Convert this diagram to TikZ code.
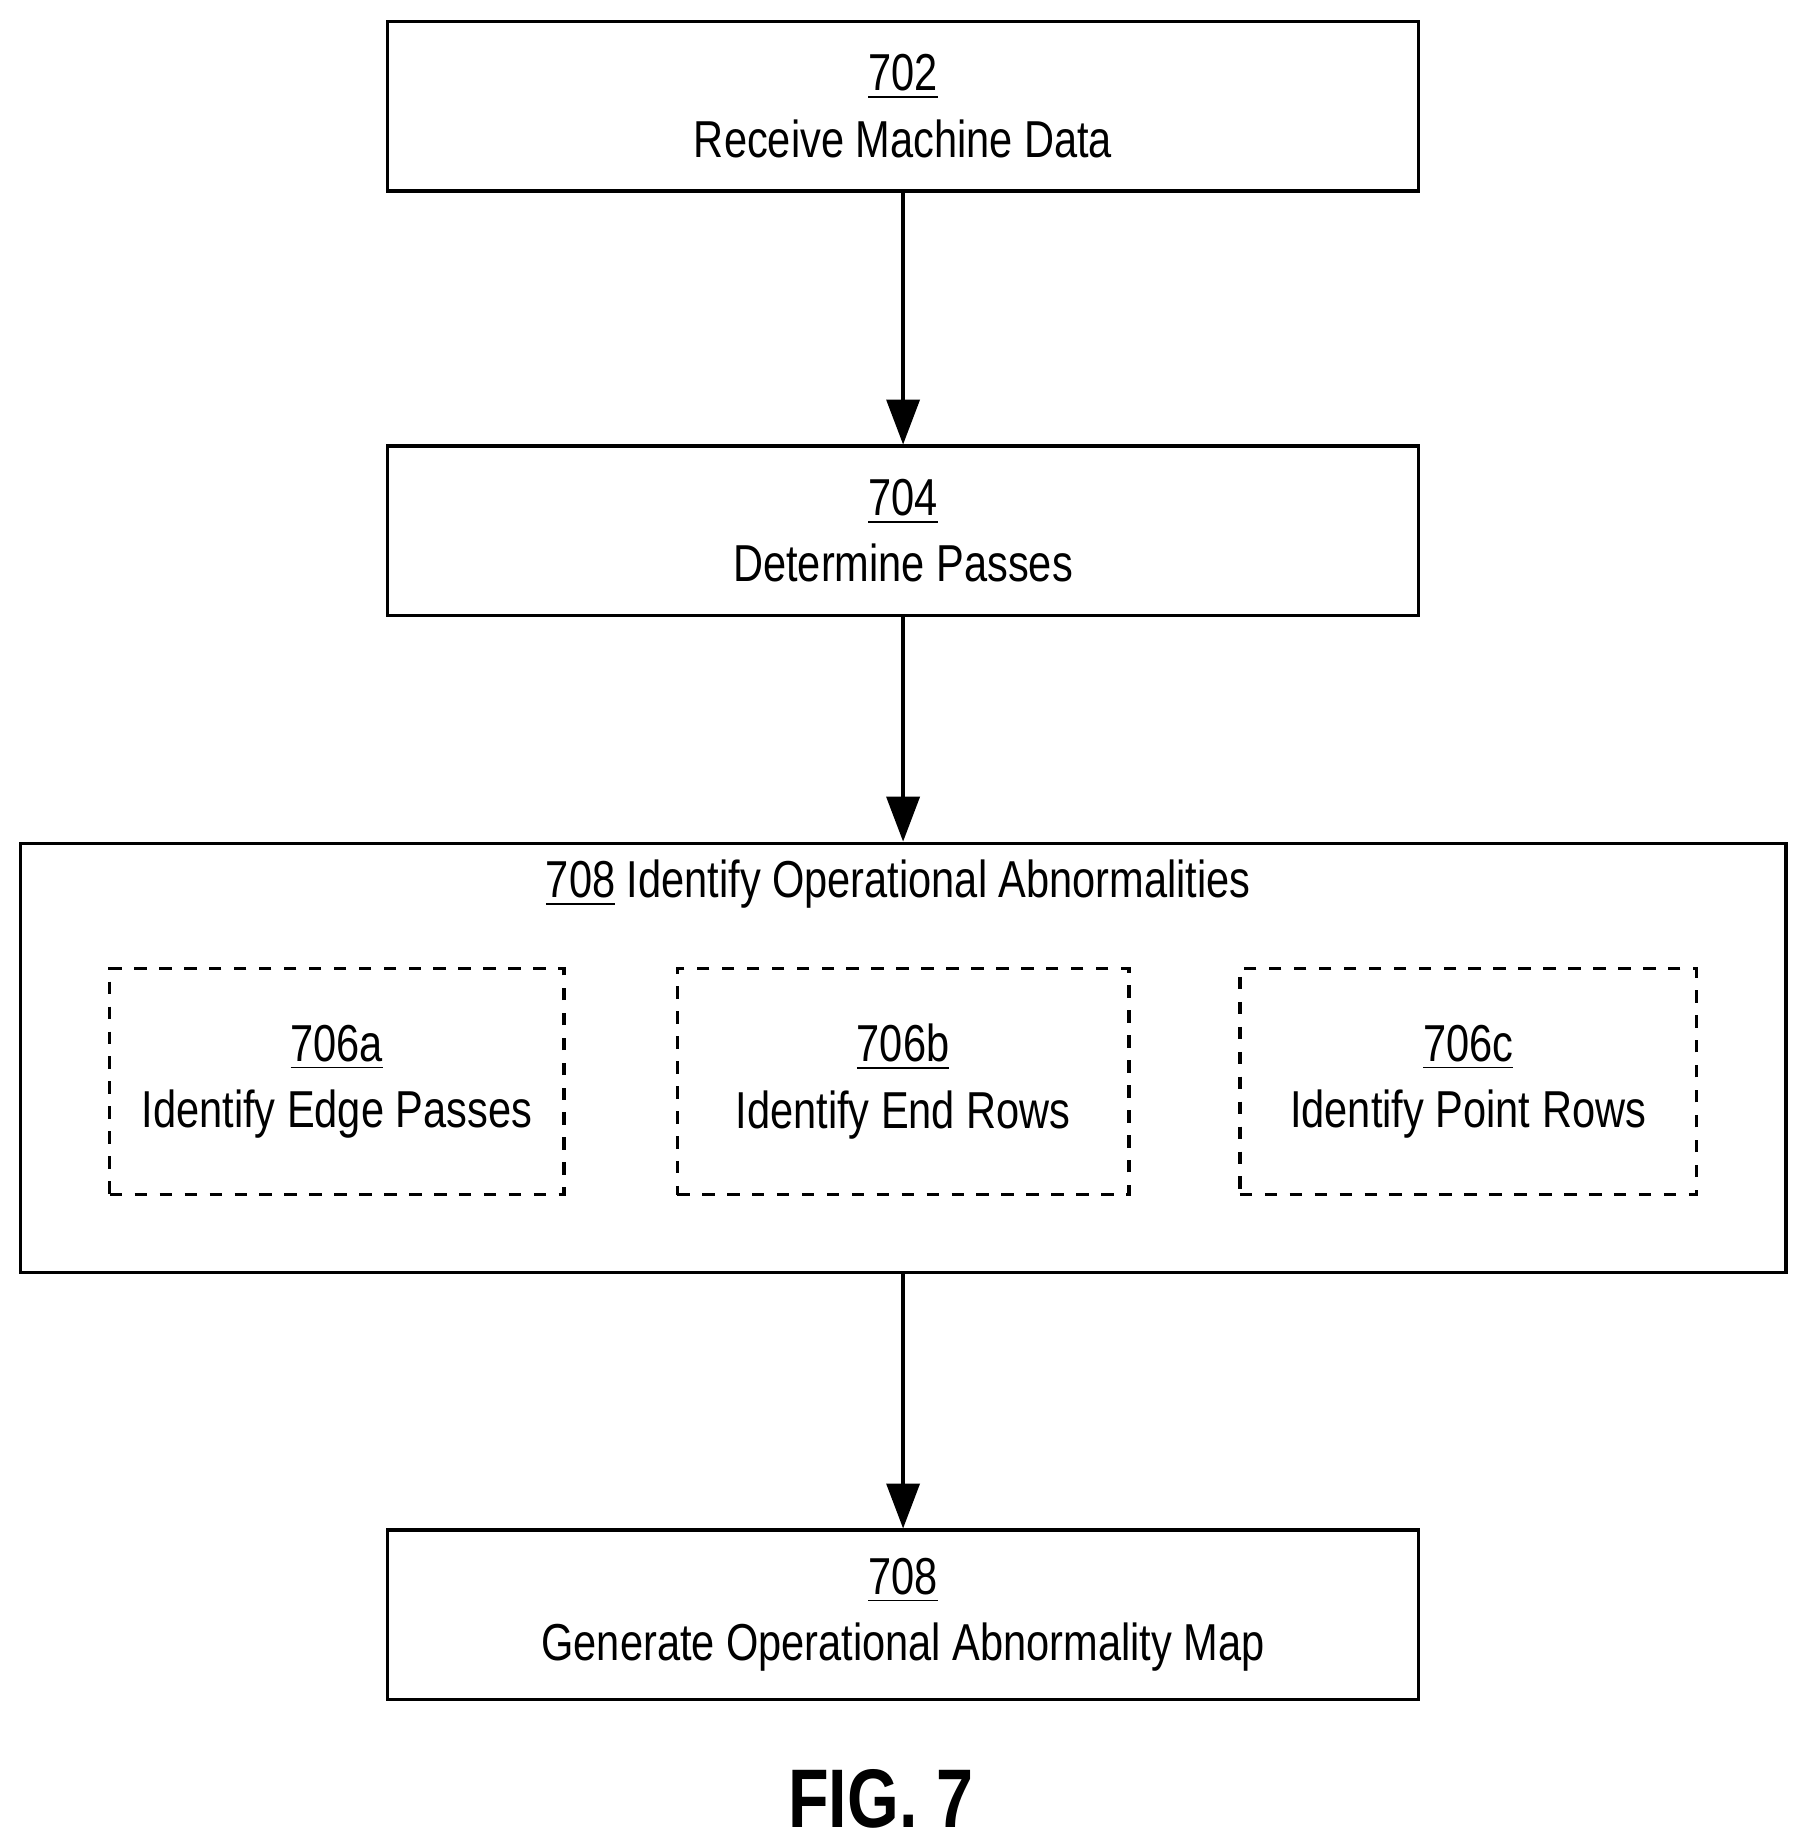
\documentclass[tikz,border=0pt]{standalone}
\usepackage{fontspec}
\setmainfont[FakeStretch=0.8]{Liberation Sans}
\usetikzlibrary{arrows.meta,positioning}
\tikzset{
		>={Triangle[width=2.8mm,length=3.8mm]}
	}
\begin{document}
\begin{tikzpicture}[thick,x=0.01cm,y=0.01cm,
    stepbox/.style={draw,minimum width=8.72cm,minimum height=1.43cm,align=center,font=\fontsize{12.5}{16}\selectfont},
    subbox/.style={draw,dashed,minimum width=3.84cm,minimum height=1.91cm,align=center,font=\fontsize{12.5}{16}\selectfont}]
          \useasboundingbox (0,0) rectangle (1526,1560);

          \node[stepbox] (recv) at (764,1470) {\underline{702}\\Receive Machine Data};
          \node[stepbox] (pass) at (764,1111) {\underline{704}\\Determine Passes};
          \node[draw,minimum width=14.93cm,minimum height=3.63cm] (ident) at (764,665) {};
          \node[font=\fontsize{12.5}{16}\selectfont] (title) at (760,812) {\underline{708} Identify Operational Abnormalities};
          \node[subbox] (edge) at (285,645) {\underline{706a}\\Identify Edge Passes};
          \node[subbox,minimum width=3.82cm] (endr) at (764,645) {\underline{706b}\\Identify End Rows};
          \node[subbox,minimum width=3.86cm] (point) at (1242,645) {\underline{706c}\\Identify Point Rows};
          \node[stepbox] (map) at (764,194) {\underline{708}\\Generate Operational Abnormality Map};

          \draw[->] (recv) -- (pass);
          \draw[->] (pass) -- (ident);
          \draw[->] (ident) -- (map);

          \node[font=\bfseries\fontsize{20}{24}\selectfont] (fig) at (745,38) {FIG. 7};
\end{tikzpicture}
\end{document}
